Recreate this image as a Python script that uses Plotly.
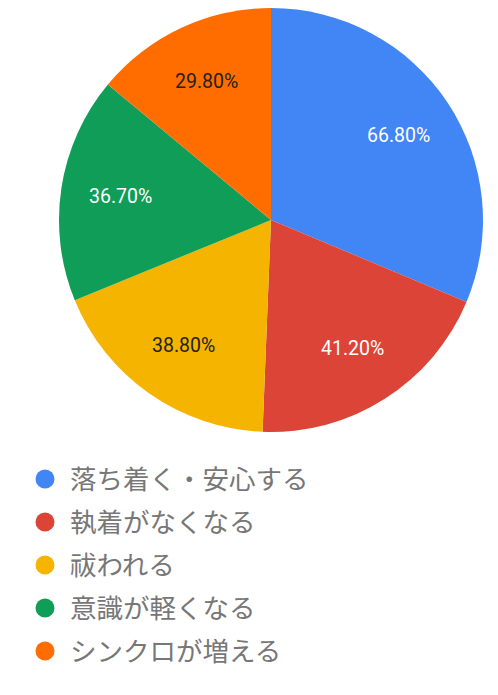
import math
import plotly.graph_objects as go

# 回答ごとの割合（複数回答）
labels = ["落ち着く・安心する", "執着がなくなる", "祓われる", "意識が軽くなる", "シンクロが増える"]
values = [66.8, 41.2, 38.8, 36.7, 29.8]
colors = ["#4285F4", "#DB4437", "#F4B400", "#0F9D58", "#FF6D00"]
text_colors = ["white", "white", "#222222", "white", "#222222"]

W, H = 498, 695
# pie box in pixels
px0, px1, py0, py1 = 59, 483, 8, 432
cx, cy = (px0 + px1) / 2, (py0 + py1) / 2
R = (px1 - px0) / 2

fig = go.Figure(go.Pie(
    labels=labels,
    values=values,
    sort=False,
    direction="clockwise",
    rotation=0,
    marker=dict(colors=colors, line=dict(color="white", width=0)),
    textinfo="none",
    showlegend=False,
    hoverinfo="label+value",
    domain=dict(x=[px0 / W, px1 / W], y=[1 - py1 / H, 1 - py0 / H]),
))

annotations = []
# slice labels at the middle angle of each slice
total = sum(values)
start = 0.0
for v, tc in zip(values, text_colors):
    mid = (start + v / 2) / total * 2 * math.pi
    start += v
    r = 0.72 * R
    x = cx + r * math.sin(mid)
    y = cy - r * math.cos(mid)
    annotations.append(dict(
        text=f"{v:.2f}%", xref="paper", yref="paper",
        x=x / W, y=1 - y / H, xanchor="center", yanchor="middle",
        showarrow=False,
        font=dict(family="Roboto", size=19.5, color=tc),
    ))

# legend drawn by hand so the markers are circles
shapes = []
for i, (lab, col) in enumerate(zip(labels, colors)):
    ly = 479 + i * 43
    shapes.append(dict(
        type="circle", xref="paper", yref="paper",
        x0=(45 - 9.5) / W, x1=(45 + 9.5) / W,
        y0=1 - (ly + 9.5) / H, y1=1 - (ly - 9.5) / H,
        fillcolor=col, line=dict(width=0),
    ))
    annotations.append(dict(
        text=lab, xref="paper", yref="paper",
        x=68 / W, y=1 - (ly - 2) / H, xanchor="left", yanchor="middle",
        showarrow=False,
        font=dict(family="Noto Sans CJK JP", size=26.5, color="#777777"),
    ))

fig.update_layout(
    width=W, height=H,
    margin=dict(l=0, r=0, t=0, b=0),
    paper_bgcolor="white",
    plot_bgcolor="white",
    shapes=shapes,
    annotations=annotations,
)

fig.write_html("out.html", config={"displayModeBar": False},
               post_script="document.body.style.margin='0';")
